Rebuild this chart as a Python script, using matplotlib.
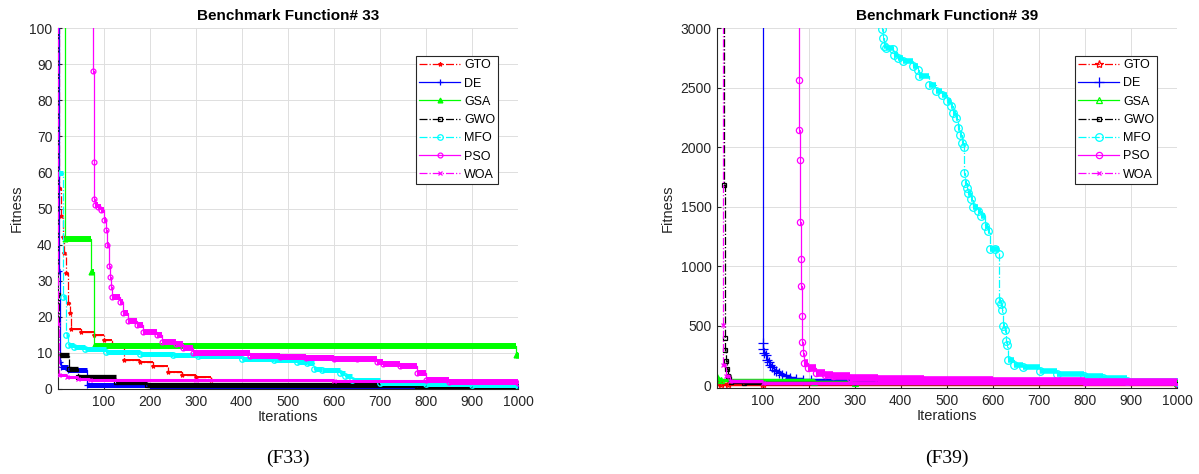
import numpy as np
import matplotlib
matplotlib.use("Agg")
import matplotlib.pyplot as plt

plt.rcParams['font.family'] = ['Liberation Sans', 'DejaVu Sans']

algos = ["GTO", "DE", "GSA", "GWO", "MFO", "PSO", "WOA"]

# ---- F33 : best-so-far fitness, (iteration where value changes, new value)
gto33_it = [1, 4, 8, 12, 15, 18, 22, 26, 30, 52, 80, 101, 119, 145, 180, 208, 240, 270, 300, 334, 600, 1000]
gto33_val = [250, 55.6, 47.8, 42, 37.7, 32, 23.9, 21, 16.5, 15.7, 15.0, 13.6, 12.6, 8.0, 7.4, 6.3, 4.8, 3.9, 3.4, 2.6, 2.0, 1.8]
de33_it = [1, 3, 5, 8, 22, 65, 200, 500, 800, 1000]
de33_val = [300, 32.6, 7.6, 6.2, 5.3, 1.1, 0.9, 0.7, 0.5, 0.5]
gsa33_it = [1, 17, 73, 79, 996, 1000]
gsa33_val = [300, 41.6, 32.3, 11.9, 9.3, 9.3]
gwo33_it = [1, 2, 4, 24, 45, 128, 195, 780, 1000]
gwo33_val = [300, 26, 9.4, 5.5, 3.2, 2.0, 1.0, 0.7, 0.7]
mfo33_it = [1, 2, 12, 19, 22, 35, 60, 105, 180, 250, 306, 400, 470, 520, 541, 556, 575, 613, 625, 640, 700, 800, 900, 1000]
mfo33_val = [300, 59.8, 25.5, 15.0, 12.2, 11.5, 11.0, 10.3, 9.8, 9.4, 9.1, 8.4, 8.0, 7.6, 7.2, 5.6, 5.2, 4.4, 3.5, 2.4, 1.8, 1.3, 1.0, 0.8]
pso33_it = [1, 78, 79, 80, 82, 88, 95, 101, 105, 108, 111, 114, 116, 118, 136, 143, 154, 172, 186, 215, 226, 258,
            273, 295, 417, 483, 540, 600, 650, 693, 707, 743, 780, 801, 850, 1000]
pso33_val = [300, 88, 63, 52.5, 51, 50.5, 49.6, 46.8, 44, 40, 34, 31, 28.3, 25.6, 24.2, 21, 18.7, 17.8, 15.9, 15.0, 13.1, 12.6,
             11.3, 9.9, 9.2, 9.0, 8.7, 8.4, 8.2, 7.6, 7.0, 6.3, 4.4, 2.5, 2.0, 1.8]
woa33_it = [1, 2, 3, 20, 45, 70, 300, 600, 1000]
woa33_val = [300, 18, 3.8, 3.3, 2.9, 2.6, 2.5, 2.3, 2.0]

# ---- F39
gto39_it = [1, 3, 10, 25, 100, 1000]
gto39_val = [45, 18, 12, 8, 6, 5]
de39_it = [1, 100, 101, 103, 107, 110, 114, 117, 121, 125, 130, 136, 143, 150, 160, 172, 187, 206, 300, 1000]
de39_val = [4000, 354, 300, 270, 256, 214, 190, 172, 150, 130, 115, 102, 88, 74, 62, 52, 46, 40, 30, 15]
gsa39_it = [1, 4, 10, 212, 300, 1000]
gsa39_val = [70, 50, 44, 25, 20, 18]
gwo39_it = [1, 16, 18, 19, 20, 22, 25, 31, 60, 1000]
gwo39_val = [4000, 1679, 399, 298, 200, 138, 80, 25, 15, 10]
mfo39_it = [1, 360, 361, 364, 368, 383, 386, 393, 404, 426, 437, 440, 462, 476, 490, 501, 510, 514, 521, 525, 528,
            532, 537, 538, 539, 543, 546, 553, 557, 568, 575, 582, 590, 593, 604, 613, 614, 618, 620, 622, 626,
            628, 631, 634, 645, 666, 702, 739, 797, 840, 891, 1000]
mfo39_val = [4000, 2995, 2918, 2848, 2834, 2820, 2777, 2749, 2721, 2679, 2651, 2595, 2525, 2469, 2440, 2385, 2343,
             2287, 2245, 2161, 2105, 2035, 2000, 1783, 1699, 1657, 1615, 1559, 1497, 1460, 1418, 1334, 1292, 1139,
             1139, 1097, 704, 685, 629, 494, 461, 368, 334, 214, 172, 153, 116, 94, 74, 55, 38, 24]
pso39_it = [1, 179, 180, 181, 182, 183, 184, 185, 186, 187, 190, 198, 216, 235, 252, 289, 350, 450, 600, 800, 1000]
pso39_val = [4000, 2567, 2147, 1889, 1374, 1055, 830, 578, 360, 265, 186, 144, 102, 85, 74, 60, 50, 42, 35, 28, 24]
woa39_it = [1, 13, 15, 21, 30, 100, 1000]
woa39_val = [4000, 508, 172, 74, 35, 20, 12]

colors = ['#ff0000', '#0000ff', '#00ff00', '#000000', '#00ffff', '#ff00ff', '#ff00ff']
styles = ['-.', '-', '-', '-.', '-.', '-', '-.']
markers = ['*', '+', '^', 's', 'o', 'o', 'x']

txt = '#262626'


def panel(ax, data, title, ylim, yticks, bands, msize, filled):
    for k, (name, (its, vals)) in enumerate(zip(algos, data)):
        c = colors[k]
        z = 2 + k * 0.1
        its = np.array(its)
        vals = np.array(vals)
        # dense markers on the flat parts look like a thick band
        ax.hlines(vals[:-1], its[:-1], its[1:], colors=c, lw=bands[k], zorder=z)
        ax.plot(its, vals, drawstyle='steps-post', color=c, ls=styles[k], lw=0.9,
                marker=markers[k], ms=msize[k], mew=0.9,
                mfc=c if filled[k] else 'none', mec=c, label=name, zorder=z)
    ax.set_xlim(1, 1000)
    ax.set_ylim(*ylim)
    ax.set_xticks(range(100, 1001, 100))
    ax.set_yticks(yticks)
    ax.grid(True, color='#dedede', lw=0.7)
    ax.set_axisbelow(True)
    for s in ['top', 'right']:
        ax.spines[s].set_visible(False)
    for s in ['left', 'bottom']:
        ax.spines[s].set_color(txt)
        ax.spines[s].set_linewidth(0.8)
    ax.tick_params(direction='in', length=3, colors=txt, labelsize=10, pad=4)
    ax.set_title(title, fontsize=11, fontweight='bold', pad=6)
    ax.set_xlabel('Iterations', fontsize=10.5, color=txt, labelpad=1)
    ax.set_ylabel('Fitness', fontsize=10.5, color=txt, labelpad=4)
    leg = ax.legend(loc='upper right', bbox_to_anchor=(0.957, 0.922), fontsize=9,
                    handlelength=3.3, borderpad=0.25, labelspacing=0.5, handletextpad=0.3,
                    fancybox=False, framealpha=1, edgecolor=txt, borderaxespad=0)
    leg.get_frame().set_linewidth(0.8)


fig = plt.figure(figsize=(11.99, 4.74), dpi=100)
ax1 = fig.add_axes([58 / 1199, 85 / 474, 460 / 1199, 361 / 474])
ax2 = fig.add_axes([717 / 1199, 86 / 474, 460 / 1199, 360 / 474])

data33 = [(gto33_it, gto33_val), (de33_it, de33_val), (gsa33_it, gsa33_val), (gwo33_it, gwo33_val),
          (mfo33_it, mfo33_val), (pso33_it, pso33_val), (woa33_it, woa33_val)]
data39 = [(gto39_it, gto39_val), (de39_it, de39_val), (gsa39_it, gsa39_val), (gwo39_it, gwo39_val),
          (mfo39_it, mfo39_val), (pso39_it, pso39_val), (woa39_it, woa39_val)]

panel(ax1, data33, 'Benchmark Function# 33', (0, 100), range(0, 101, 10),
      [1.4, 3.6, 4.3, 3.8, 3.6, 4.3, 2.2], [3, 4, 3.5, 2.5, 4, 3.5, 2.5], [True, False, True, False, False, False, False])
panel(ax2, data39, 'Benchmark Function# 39', (-25, 3000), range(0, 3001, 500),
      [2.5, 2.5, 2.5, 2.5, 4.0, 5.5, 2.5], [6, 7, 5, 3, 5.5, 4.5, 3], [False, False, False, False, False, False, False])

fig.text((58 + 230) / 1199, 0.034, '(F33)', family=['Liberation Serif', 'DejaVu Serif'], fontsize=14,
         ha='center', va='center')
fig.text((717 + 230) / 1199, 0.034, '(F39)', family=['Liberation Serif', 'DejaVu Serif'], fontsize=14,
         ha='center', va='center')

fig.savefig('out.png', dpi=100)
